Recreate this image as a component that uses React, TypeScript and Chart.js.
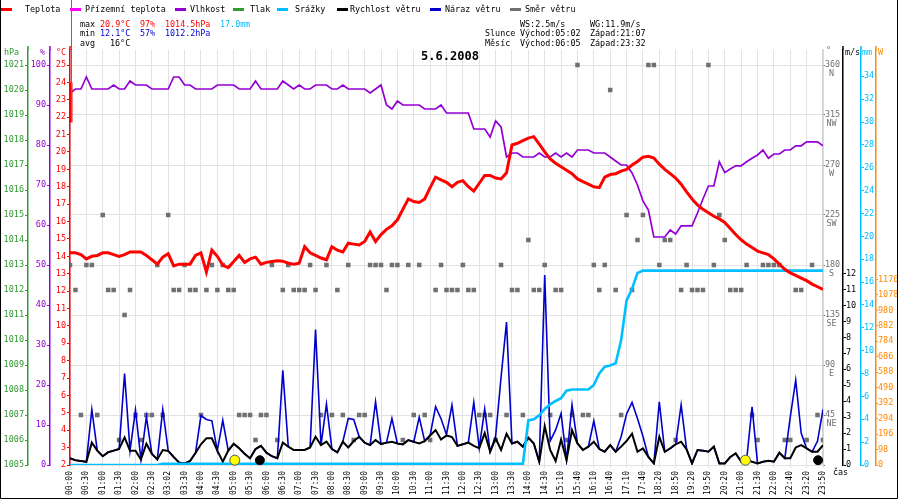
import React, { useEffect, useRef } from 'react';
import { Chart, registerables } from 'chart.js';

Chart.register(...registerables);

const FONT = '"DejaVu Sans Mono", monospace';

// x axis: one label every 3 samples
const timeLabels = ['00:00','00:30','01:00','01:30','02:00','02:30','03:02','03:30','04:00','04:30','05:00','05:30','06:00','06:30','07:00','07:30','08:00','08:30','09:00','09:30','10:00','10:30','11:00','11:30','12:00','12:30','13:00','13:30','14:00','14:30','15:10','15:40','16:10','16:40','17:10','17:40','18:20','18:50','19:20','19:50','20:20','21:00','21:30','22:00','22:40','23:20','23:50'];
const samplesPerLabel = 3;

const temperature = [
  14.2,14.2,14.1,13.85,14.0,14.05,14.2,14.2,14.1,14.0,
  14.1,14.25,14.25,14.25,14.05,13.8,13.55,13.95,14.15,13.45,
  13.55,13.55,13.55,14.05,14.2,13.1,14.35,14.0,13.5,13.35,
  13.7,14.05,13.65,13.85,13.95,13.55,13.65,13.7,13.75,13.72,
  13.6,13.55,13.6,14.55,14.2,14.05,13.9,13.8,14.55,14.35,
  14.25,14.75,14.7,14.65,14.85,15.4,14.85,15.25,15.55,15.75,
  16.1,16.7,17.3,17.15,17.1,17.3,17.95,18.55,18.4,18.25,
  18.0,18.25,18.35,18.0,17.75,18.2,18.65,18.65,18.5,18.45,
  18.8,20.4,20.5,20.65,20.8,20.88,20.45,20.0,19.6,19.35,
  19.15,18.95,18.75,18.45,18.3,18.15,18.0,17.95,18.55,18.7,
  18.75,18.9,19.0,19.25,19.45,19.7,19.75,19.65,19.3,19.0,
  18.75,18.5,18.15,17.7,17.3,16.95,16.7,16.5,16.3,16.15,
  15.95,15.6,15.25,14.95,14.7,14.5,14.3,14.2,14.1,13.85,
  13.55,13.25,13.05,12.9,12.75,12.6,12.4,12.25,12.1
];
const tempStartSpike = [24.0, 21.7];

const humidity = [
  93,94,94,97,94,94,94,94,95,94,
  94,96,95,95,95,94,94,94,94,97,
  97,95,95,94,94,94,94,95,95,95,
  95,94,94,94,96,94,94,94,94,96,
  95,94,95,94,94,95,95,95,94,94,
  95,94,94,94,94,93,94,95,90,89,
  91,90,90,90,90,89,89,89,90,88,
  88,88,88,88,84,84,84,82,86,84.5,
  77,78,78,77,77,77,78,77,77,78,
  77,78,77,78.75,78.75,78.75,78,78,78,77,
  76,75,75,73,70,66,63.75,57,57,57,
  58.75,57.75,59.8,59.8,59.8,63,66.5,69.75,69.75,75.8,
  73.1,74,74.8,74.8,75.8,76.7,77.5,78.75,76.7,77.75,
  77.75,78.75,78.75,79.8,79.8,80.8,80.8,80.8,79.8
];

const rain = [
  0,0,0,0,0,0,0,0,0,0,
  0,0,0,0,0,0,0,0.1,0.1,0.1,
  0.1,0.1,0.1,0.1,0.1,0.1,0.1,0.1,0.1,0.1,
  0.1,0.1,0.1,0.1,0.1,0.1,0.1,0.1,0.1,0.1,
  0.1,0.1,0.1,0.1,0.1,0.1,0.1,0.1,0.1,0.1,
  0.1,0.1,0.1,0.1,0.1,0.1,0.1,0.1,0.1,0.1,
  0.1,0.1,0.1,0.1,0.1,0.1,0.1,0.1,0.1,0.1,
  0.1,0.1,0.1,0.1,0.1,0.1,0.1,0.1,0.1,0.1,
  0.1,0.1,0.1,0.1,3.9,4.0,4.35,4.9,5.3,5.6,
  5.85,6.5,6.6,6.6,6.6,6.6,7.0,8.0,8.6,8.7,
  8.9,10.9,14.4,15.4,16.8,17.0,17.0,17.0,17.0,17.0,
  17.0,17.0,17.0,17.0,17.0,17.0,17.0,17.0,17.0,17.0,
  17.0,17.0,17.0,17.0,17.0,17.0,17.0,17.0,17.0,17.0,
  17.0,17.0,17.0,17.0,17.0,17.0,17.0,17.0,17.0
];

const windSpeed = [
  0.42,0.3,0.25,0.2,1.4,0.9,0.55,0.8,0.9,1.0,
  1.73,0.9,0.9,0.35,1.33,0.7,0.35,0.94,0.88,0.5,
  0.15,0.1,0.25,0.75,1.3,1.67,1.67,0.9,0.2,0.9,
  1.33,1.05,0.7,0.42,1.0,1.2,0.77,0.55,0.42,1.4,
  1.15,0.94,0.94,0.94,1.1,1.77,1.25,1.46,1.0,0.79,
  1.46,1.1,1.5,1.77,1.4,1.25,1.56,1.31,1.4,1.45,
  1.35,1.29,1.56,1.45,1.35,1.5,1.85,2.19,1.6,1.85,
  1.75,1.2,1.3,1.4,1.2,1.06,2.0,0.83,1.67,0.94,
  1.96,1.35,1.46,1.15,1.71,1.35,0.2,2.44,0.94,0.25,
  1.6,0.31,2.19,1.35,0.94,1.15,1.46,1.0,0.83,1.25,
  0.83,1.15,1.5,1.96,0.83,1.04,0.5,0.1,1.77,0.83,
  1.04,1.3,1.46,0.98,0.1,0.94,0.9,0.83,1.15,0.1,
  0.1,0.5,0.73,0.21,0.31,0.2,0.1,0.2,0.27,0.21,
  0.77,0.42,0.42,1.1,1.25,1.04,0.83,0.83,1.25
];

const windGust = [
  0.42,0.3,0.25,0.2,3.48,0.9,0.55,0.8,0.9,1.0,
  5.73,0.9,3.44,0.35,3.02,0.7,0.35,3.48,0.88,0.5,
  0.15,0.1,0.25,0.75,3.1,2.85,2.77,0.9,2.8,0.9,
  1.33,1.05,0.7,0.42,1.0,1.2,0.77,0.55,0.42,5.94,
  1.15,0.94,0.94,0.94,1.1,8.48,1.25,3.81,1.0,0.79,
  1.46,2.92,2.85,1.77,1.4,1.25,3.96,1.31,1.4,2.92,
  1.35,1.29,1.56,1.45,3.0,1.5,1.85,3.65,2.9,1.9,
  3.75,1.2,1.3,1.4,3.92,1.06,3.5,0.83,1.8,5.5,
  8.96,1.35,1.46,1.15,1.71,1.35,0.2,11.9,1.5,2.2,
  3.23,0.31,3.77,1.35,0.94,1.15,2.77,1.0,0.83,1.25,
  0.83,1.77,3.2,3.92,2.92,1.8,0.5,0.1,3.96,0.83,
  1.04,1.3,3.77,0.98,0.1,0.94,0.9,0.83,1.15,0.1,
  0.1,0.5,0.73,0.21,0.31,3.65,0.1,0.2,0.27,0.21,
  0.77,0.42,3.0,5.31,2.0,1.04,0.83,1.5,3.48
];

const windDir = [
  180,157.5,45,180,180,45,225,157.5,157.5,22.5,
  135,157.5,45,22.5,45,45,180,45,225,157.5,
  157.5,180,157.5,157.5,45,157.5,180,157.5,180,157.5,
  157.5,45,45,45,22.5,45,45,180,22.5,157.5,
  180,157.5,157.5,157.5,180,157.5,45,180,45,157.5,
  45,180,22.5,45,45,180,180,180,157.5,180,
  180,22.5,180,45,180,45,22.5,157.5,180,157.5,
  157.5,157.5,180,157.5,157.5,45,45,45,22.5,180,
  45,157.5,157.5,45,202.5,157.5,157.5,180,45,157.5,
  157.5,22.5,45,360,45,45,180,157.5,180,337.5,
  157.5,45,225,157.5,202.5,225,360,360,180,202.5,
  202.5,22.5,157.5,180,157.5,157.5,157.5,360,180,225,
  202.5,157.5,157.5,157.5,180,45,22.5,180,180,180,
  180,22.5,22.5,157.5,157.5,22.5,180,45,22.5
];

// sun / moon events as sample positions
const sunMarkers = [30.2, 123.8];
const moonMarkers = [34.8, 137.1];
const markerLevel = 0.3;

// axis ticks
const hpaTicks = [1005,1006,1007,1008,1009,1010,1011,1012,1013,1014,1015,1016,1017,1018,1019,1020,1021];
const pctTicks = [0,10,20,30,40,50,60,70,80,90,100];
const tempTicks = [2,3,4,5,6,7,8,9,10,11,12,13,14,15,16,17,18,19,20,21,22,23,24,25];
const dirTicks = [0,45,90,135,180,225,270,315,360];
const dirNames = ['', 'NE', 'E', 'SE', 'S', 'SW', 'W', 'NW', 'N'];
const msTicks = [0,1,2,3,4,5,6,7,8,9,10,11,12];
const mmTicks = [0,2,4,6,8,10,12,14,16,18,20,22,24,26,28,30,32,34];
const wTicks = [0,98,196,294,392,490,588,686,784,882,980,1078,1176];

// texts
const titleText = '5.6.2008';
const statMax = ['20.9°C', '97%', '1014.5hPa', '17.0mm'];
const statMin = ['12.1°C', '57%', '1012.2hPa'];
const statAvg = ['16°C'];
const windStats = ['WS:2.5m/s', 'WG:11.9m/s'];
const sunStats = ['Slunce', 'Východ:05:02', 'Západ:21:07'];
const moonStats = ['Měsíc', 'Východ:06:05', 'Západ:23:32'];

const C = {
  temp: '#ff0000', feel: '#ff00ff', hum: '#9400d3', press: '#339933', rain: '#00bfff',
  wind: '#000000', gust: '#0000cc', dir: '#707070', watt: '#ff8800', grid: '#e2e2e2', minBlue: '#0000cc'
};

const legendItems = [
  { label: 'Teplota', color: C.temp, sx: 1, tx: 25 },
  { label: 'Přízemní teplota', color: C.feel, sx: 70, tx: 85 },
  { label: 'Vlhkost', color: C.hum, sx: 175, tx: 190 },
  { label: 'Tlak', color: C.press, sx: 233, tx: 250 },
  { label: 'Srážky', color: C.rain, sx: 277, tx: 295 },
  { label: 'Rychlost větru', color: C.wind, sx: 337, tx: 350 },
  { label: 'Náraz větru', color: C.gust, sx: 430, tx: 445 },
  { label: 'Směr větru', color: C.dir, sx: 510, tx: 525 },
];

const series = (arr: number[]) => arr.map((v, i) => ({ x: i, y: v }));

const tickFont = { family: FONT, size: 8.5 };

function sideAxis(position: 'left' | 'right', min: number, max: number, ticksArr: number[], color: string, width: number, weight: number, padding: number, tickLength = 3) {
  return {
    type: 'linear' as const,
    position,
    min,
    max,
    weight,
    afterBuildTicks: (s: any) => { s.ticks = ticksArr.map((v) => ({ value: v })); },
    afterFit: (s: any) => { s.width = width; },
    ticks: { color, font: tickFont, padding, autoSkip: false, callback: (v: any) => String(v) },
    grid: { drawOnChartArea: false, color, tickColor: color, tickLength },
    border: { color, width: 1.5 },
  };
}

const decorPlugin = {
  id: 'decor',
  beforeDraw(chart: any) {
    const c = chart.ctx;
    c.save();
    c.fillStyle = '#ffffff';
    c.fillRect(0, 0, chart.width, chart.height);
    c.restore();
  },
  afterDraw(chart: any) {
    const c = chart.ctx;
    const f = (size: number, bold = false) => `${bold ? 'bold ' : ''}${size}px ${FONT}`;
    const txt = (s: string, x: number, y: number, color: string, font = f(8.4), align = 'left') => {
      c.font = font; c.fillStyle = color; c.textAlign = align; c.fillText(s, x, y);
    };
    c.save();
    c.textBaseline = 'middle';

    // legend
    legendItems.forEach((it) => {
      c.fillStyle = it.color;
      c.fillRect(it.sx, 8, 11, 3);
      txt(it.label, it.tx, 9.5, '#000');
    });

    // stats
    const r1 = 24.5, r2 = 34, r3 = 43.5;
    txt('max', 80, r1, '#000');
    txt(statMax[0], 100, r1, C.temp); txt(statMax[1], 140, r1, C.temp); txt(statMax[2], 165, r1, C.temp); txt(statMax[3], 220, r1, C.rain);
    txt('min', 80, r2, '#000');
    txt(statMin[0], 100, r2, C.minBlue); txt(statMin[1], 140, r2, C.minBlue); txt(statMin[2], 165, r2, C.minBlue);
    txt('avg', 80, r3, '#000');
    txt(statAvg[0], 110, r3, '#000');
    txt(windStats[0], 520, r1, '#000'); txt(windStats[1], 590, r1, '#000');
    txt(sunStats[0], 485, r2, '#000'); txt(sunStats[1], 520, r2, '#000'); txt(sunStats[2], 590, r2, '#000');
    txt(moonStats[0], 485, r3, '#000'); txt(moonStats[1], 520, r3, '#000'); txt(moonStats[2], 590, r3, '#000');

    // title
    txt(titleText, 450, 57, '#000', f(12, true), 'center');

    // axis headers
    txt('hPa', 4, 53, C.press);
    txt('%', 40, 53, C.hum);
    txt('°C', 56, 53, C.temp);
    txt('°', 826, 51, C.dir);
    txt('m/s', 845, 53, '#000');
    txt('mm', 862, 53, C.rain);
    txt('W', 878, 53, C.watt);
    txt('čas', 833, 473, '#000');

    // axis line extensions above plot
    const area = chart.chartArea;
    const ext: [number, string][] = [
      [chart.scales.yP.right, C.press], [chart.scales.yH.right, C.hum], [chart.scales.yT.right, C.temp],
      [chart.scales.yMS.left, '#000'], [chart.scales.yMM.left, C.rain], [chart.scales.yW.left, C.watt],
    ];
    ext.forEach(([x, col]) => {
      c.strokeStyle = col; c.lineWidth = 1.5;
      c.beginPath(); c.moveTo(x, 46); c.lineTo(x, area.top); c.stroke();
    });

    // direction labels
    const ds = chart.scales.yDir;
    dirTicks.forEach((v, k) => {
      if (v === 0) return;
      const y = ds.getPixelForValue(v);
      txt(String(v), ds.left + 2, y, C.dir);
      txt(dirNames[k], ds.left + 8.5, y + 9, C.dir, f(8.4), 'center');
    });

    // start spike of temperature and green pressure trace at left edge
    const xs = chart.scales.x;
    const yT = chart.scales.yT;
    const x0 = xs.getPixelForValue(0) + 1;
    c.strokeStyle = C.temp; c.lineWidth = 3;
    c.beginPath(); c.moveTo(x0, yT.getPixelForValue(tempStartSpike[0])); c.lineTo(x0, yT.getPixelForValue(tempStartSpike[1])); c.stroke();
    c.strokeStyle = C.press; c.lineWidth = 1;
    c.beginPath(); c.moveTo(x0 + 0.5, 0); c.lineTo(x0 + 0.5, 122); c.stroke();

    // outer frame
    c.strokeStyle = '#000'; c.lineWidth = 1;
    c.beginPath();
    c.moveTo(0.5, 0); c.lineTo(0.5, 498.5); c.lineTo(897.5, 498.5); c.lineTo(897.5, 0);
    c.stroke();
    c.restore();
  },
};

const App = () => {
  const ref = useRef<HTMLCanvasElement>(null);
  useEffect(() => {
    const canvas = ref.current;
    if (!canvas) return;
    const chart = new Chart(canvas, {
      type: 'line',
      data: {
        datasets: [
          { label: 'sun', data: sunMarkers.map((x) => ({ x, y: markerLevel })), yAxisID: 'yMS', showLine: false, pointRadius: 5, pointStyle: 'circle', pointBackgroundColor: '#ffff00', pointBorderColor: '#555555', pointBorderWidth: 1, order: 0, clip: false } as any,
          { label: 'moon', data: moonMarkers.map((x) => ({ x, y: markerLevel })), yAxisID: 'yMS', showLine: false, pointRadius: 4.5, pointStyle: 'circle', pointBackgroundColor: '#000000', pointBorderColor: '#000000', pointBorderWidth: 1, order: 0, clip: false } as any,
          { label: 'Teplota', data: series(temperature), yAxisID: 'yT', borderColor: C.temp, borderWidth: 3, pointRadius: 0, order: 1 },
          { label: 'Vlhkost', data: series(humidity), yAxisID: 'yH', borderColor: C.hum, borderWidth: 1.7, pointRadius: 0, order: 2 },
          { label: 'Srážky', data: series(rain), yAxisID: 'yMM', borderColor: C.rain, borderWidth: 2.6, pointRadius: 0, order: 3 },
          { label: 'Rychlost větru', data: series(windSpeed), yAxisID: 'yMS', borderColor: C.wind, borderWidth: 2, pointRadius: 0, order: 4 },
          { label: 'Náraz větru', data: series(windGust), yAxisID: 'yMS', borderColor: C.gust, borderWidth: 1.6, pointRadius: 0, order: 5 },
          { label: 'Směr větru', data: series(windDir), yAxisID: 'yDir', showLine: false, pointRadius: 3.2, pointStyle: 'rect', pointBackgroundColor: C.dir, pointBorderWidth: 0, borderColor: C.dir, order: 6 } as any,
        ],
      },
      options: {
        animation: false,
        responsive: false,
        maintainAspectRatio: false,
        devicePixelRatio: 1,
        layout: { padding: { top: 50, left: 0, right: 3, bottom: 0 } },
        elements: { line: { tension: 0 } },
        plugins: { legend: { display: false }, tooltip: { enabled: false } },
        scales: {
          x: {
            type: 'linear',
            min: 0,
            max: (timeLabels.length - 1) * samplesPerLabel,
            afterBuildTicks: (s: any) => { s.ticks = timeLabels.map((_, k) => ({ value: k * samplesPerLabel })); },
            afterFit: (s: any) => { s.height = 35; },
            ticks: {
              autoSkip: false, minRotation: 90, maxRotation: 90, color: '#000', padding: 3,
              font: { family: FONT, size: 8 },
              callback: (v: any) => timeLabels[Math.round(Number(v) / samplesPerLabel)] ?? '',
            },
            grid: { color: C.grid, tickLength: 3, tickColor: C.grid },
            border: { color: C.grid },
          },
          yP: sideAxis('left', 1005, 1021.6, hpaTicks, C.press, 28, 3, 1),
          yH: sideAxis('left', 0, 103.75, pctTicks, C.hum, 22, 2, 1),
          yT: sideAxis('left', 2, 25.8625, tempTicks, C.temp, 20, 1, 1),
          yDir: {
            type: 'linear', position: 'right', min: 0, max: 373.5, weight: 1,
            afterBuildTicks: (s: any) => { s.ticks = dirTicks.map((v) => ({ value: v })); },
            afterFit: (s: any) => { s.width = 20; },
            ticks: { display: false },
            grid: { color: C.grid, tickLength: 2, tickColor: C.dir },
            border: { color: '#d0d0d0', width: 1.5 },
          },
          yMS: sideAxis('right', 0, 26, msTicks, '#000', 18, 2, 0),
          yMM: sideAxis('right', 0, 36.3, mmTicks, C.rain, 15, 3, 0),
          yW: sideAxis('right', 0, 2630, wTicks, C.watt, 21, 4, 0, 2),
        } as any,
      },
      plugins: [decorPlugin],
    });
    return () => chart.destroy();
  }, []);
  return (
    <div style={{ position: 'absolute', left: 0, top: 0, width: 900, height: 500, background: '#fff' }}>
      <canvas ref={ref} width={900} height={500} style={{ display: 'block', width: 900, height: 500 }} />
    </div>
  );
};

export default App;
